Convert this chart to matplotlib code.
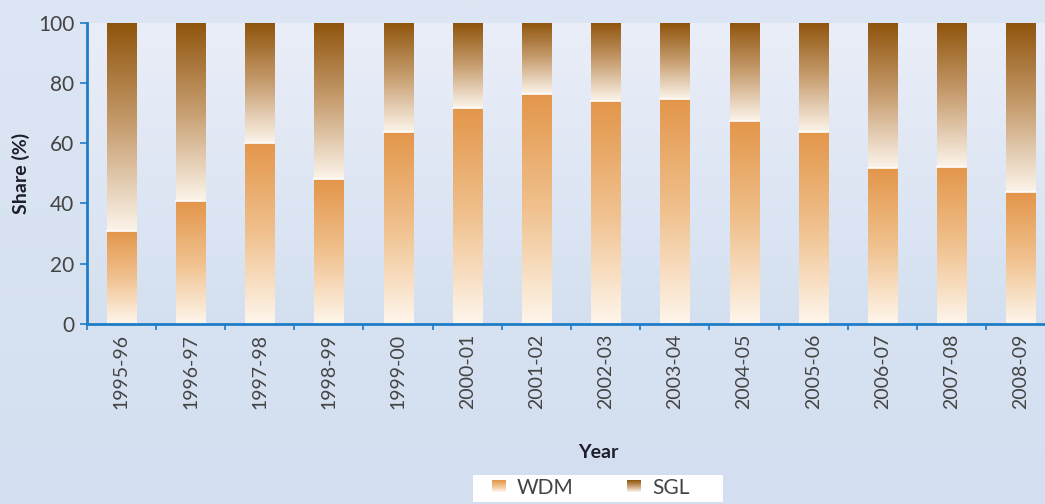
import numpy as np
import matplotlib
matplotlib.use("Agg")
import matplotlib.pyplot as plt
from matplotlib.colors import LinearSegmentedColormap

plt.rcParams['font.family'] = ['Lato', 'DejaVu Sans']

years = ['1995-96', '1996-97', '1997-98', '1998-99', '1999-00', '2000-01', '2001-02',
         '2002-03', '2003-04', '2004-05', '2005-06', '2006-07', '2007-08', '2008-09']
wdm = [31, 40.7, 60.2, 48.1, 63.8, 71.8, 76.4, 73.9, 74.8, 67.4, 63.8, 51.9, 52.2, 43.7]
sgl = [100 - v for v in wdm]

blue = '#1f7cc6'
label_color = '#1e1e2a'
tick_color = '#444444'
wdm_cmap = LinearSegmentedColormap.from_list('wdm', ['#fef6ec', '#f0c18e', '#e3964a'])
sgl_cmap = LinearSegmentedColormap.from_list('sgl', ['#fcf4ea', '#c79e70', '#8f540c'])
grad = np.linspace(0, 1, 256).reshape(-1, 1)

fig = plt.figure(figsize=(10.45, 5.04), dpi=100)

# figure background gradient
bg = fig.add_axes([0, 0, 1, 1], zorder=-10)
bg.imshow(grad, cmap=LinearSegmentedColormap.from_list('bg', ['#d3dff0', '#dde6f4']),
          aspect='auto', origin='lower', extent=(0, 1, 0, 1))
bg.set_axis_off()

ax = fig.add_axes([86.7 / 1045, 1 - 324 / 504, 968.8 / 1045, (324 - 22.7) / 504])
ax.imshow(grad, cmap=LinearSegmentedColormap.from_list('pa', ['#d4e0f0', '#eaeef8']),
          aspect='auto', origin='lower', extent=(-0.5, len(years) - 0.5, 0, 100), zorder=0)

x = np.arange(len(years))
width = 0.42
b1 = ax.bar(x, wdm, width, facecolor='none', edgecolor='none', zorder=2)
b2 = ax.bar(x, sgl, width, bottom=wdm, facecolor='none', edgecolor='none', zorder=2)

# fill each bar with a vertical gradient
for bars, cmap in ((b1, wdm_cmap), (b2, sgl_cmap)):
    for p in bars:
        x0, y0 = p.get_x(), p.get_y()
        im = ax.imshow(grad, cmap=cmap, aspect='auto', origin='lower',
                       extent=(x0, x0 + p.get_width(), y0, y0 + p.get_height()), zorder=2)
        im.set_clip_path(p)
for p in b2:
    ax.plot([p.get_x(), p.get_x() + p.get_width()], [p.get_y(), p.get_y()],
            color='white', lw=1.2, zorder=3)

ax.set_xlim(-0.5, len(years) - 0.5)
ax.set_ylim(0, 100)
ax.set_yticks([0, 20, 40, 60, 80, 100])
ax.set_xticks(x)
ax.set_xticklabels(years, rotation=90)
ax.set_xticks(np.arange(len(years) + 1) - 0.5, minor=True)
ax.tick_params(axis='x', which='major', length=0, pad=7, labelsize=14, labelcolor=tick_color)
ax.tick_params(axis='x', which='minor', length=4, width=1.2, color=blue)
ax.tick_params(axis='y', length=5, width=1.2, color=blue, pad=4, labelsize=15,
               labelcolor=tick_color)
for s in ('top', 'right'):
    ax.spines[s].set_visible(False)
for s in ('left', 'bottom'):
    ax.spines[s].set_color(blue)
    ax.spines[s].set_linewidth(2)

fig.text(21 / 1045, 1 - 173 / 504, 'Share (%)', rotation=90, ha='center', va='center',
         fontsize=14, fontweight='bold', color=label_color)
fig.text(598 / 1045, 1 - 452 / 504, 'Year', ha='center', va='center',
         fontsize=14, fontweight='bold', color=label_color)

# legend box
lg = fig.add_axes([473 / 1045, 2 / 504, 250 / 1045, 27 / 504])
lg.set_facecolor('white')
for s in lg.spines.values():
    s.set_visible(False)
lg.set_xticks([])
lg.set_yticks([])
for x0, cmap, label in ((19, wdm_cmap, 'WDM'), (154, sgl_cmap, 'SGL')):
    lg.imshow(grad, cmap=cmap, aspect='auto', origin='lower', extent=(x0, x0 + 14, 10, 22))
    lg.text(x0 + 25, 14, label, va='center', ha='left', fontsize=15, color=tick_color)
lg.set_xlim(0, 250)
lg.set_ylim(0, 27)

fig.savefig('out.png', dpi=100)
